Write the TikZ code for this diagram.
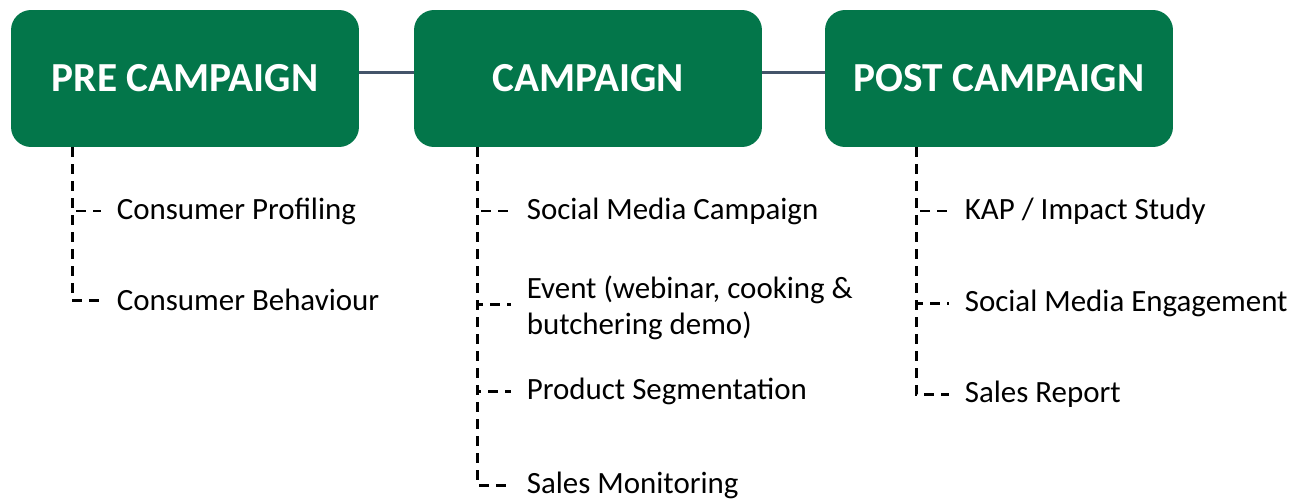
\documentclass[tikz,border=0pt]{standalone}
\usepackage{fontspec}
\setmainfont{Carlito}
\definecolor{phasegreen}{RGB}{3,118,74}
\definecolor{linkgrey}{RGB}{68,84,106}

\begin{document}
\begin{tikzpicture}[x=0.02cm,y=-0.02cm,
    phase/.style={draw=none,fill=phasegreen,rounded corners=0.4cm,minimum width=6.96cm,minimum height=2.74cm,text=white,font=\fontsize{23.5}{27}\selectfont\bfseries},
    item/.style={anchor=west,inner xsep=0pt,outer xsep=9pt,align=left,font=\fontsize{17.6}{20.5}\selectfont},
    link/.style={draw=linkgrey,line width=1.3pt},
    branch/.style={line width=1.7pt,dash pattern=on 0.2cm off 0.14cm}]
        \useasboundingbox (0,0) rectangle (1301,501);

        \node[phase] (pre) at (185,78.5) {PRE CAMPAIGN};
        \node[phase] (camp) at (588,78.5) {CAMPAIGN};
        \node[phase] (post) at (999,78.5) {POST CAMPAIGN};

        \draw[link] ([yshift=0.12cm]pre.east) -- ([yshift=0.12cm]camp.west);
        \draw[link] ([yshift=0.12cm]camp.east) -- ([yshift=0.12cm]post.west);

        \node[item] (cp) at (101,211) {Consumer Profiling};
        \node[item] (cb) at (101,300) {Consumer Behaviour};

        \node[item] (smc) at (511,211) {Social Media Campaign};
        \node[item] (ev) at (511,308) {Event (webinar, cooking \&\\butchering demo)};
        \node[item] (ps) at (511,391) {Product Segmentation};
        \node[item] (sm) at (511,485) {Sales Monitoring};

        \node[item] (kap) at (949,211) {KAP / Impact Study};
        \node[item] (sme) at (949,303) {Social Media Engagement};
        \node[item] (sr) at (949,394) {Sales Report};

        \draw[branch] ([xshift=-2.26cm]pre.south) |- (cp.west);
        \draw[branch] ([xshift=-2.26cm]pre.south) |- (cb.west);

        \draw[branch] ([xshift=-2.22cm]camp.south) |- (smc.west);
        \draw[branch] ([xshift=-2.22cm]camp.south) |- ([yshift=0.08cm]ev.west);
        \draw[branch] ([xshift=-2.22cm]camp.south) |- (ps.west);
        \draw[branch] ([xshift=-2.22cm]camp.south) |- (sm.west);

        \draw[branch] ([xshift=-1.66cm]post.south) |- (kap.west);
        \draw[branch] ([xshift=-1.66cm]post.south) |- (sme.west);
        \draw[branch] ([xshift=-1.66cm]post.south) |- (sr.west);
    \end{tikzpicture}
\end{document}
